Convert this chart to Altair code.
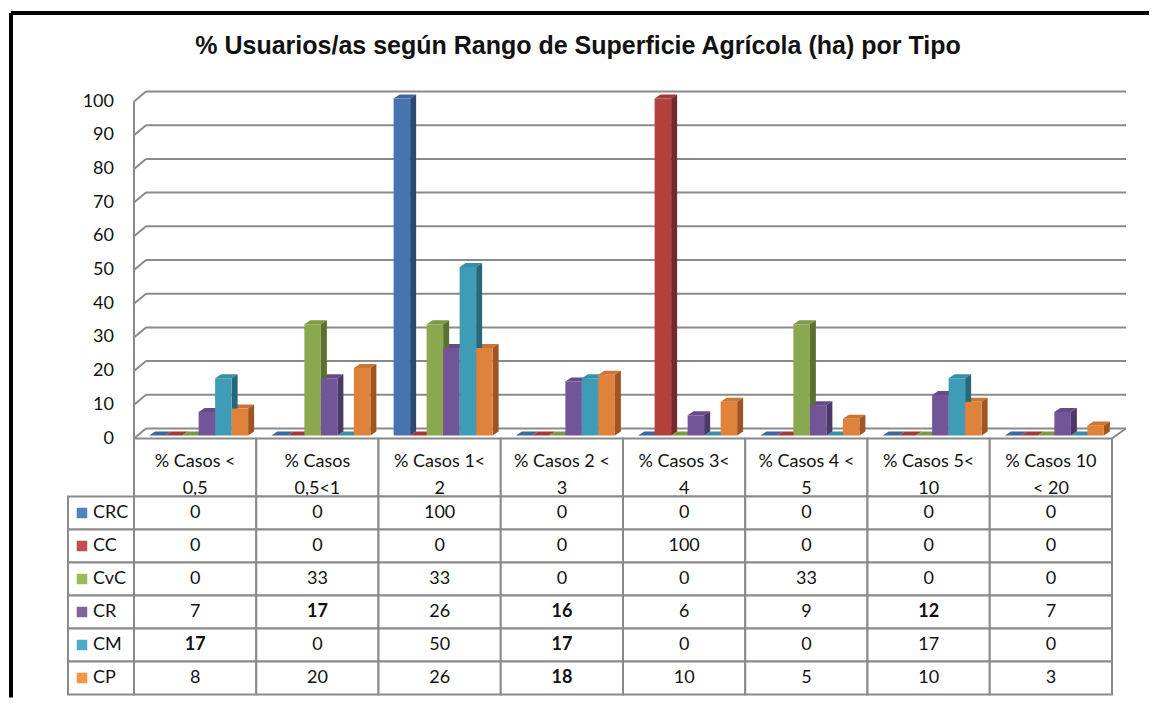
import altair as alt
import pandas as pd

TITLE = "% Usuarios/as según Rango de Superficie Agrícola (ha) por Tipo"
CATEGORIES = ["% Casos < 0,5", "% Casos 0,5<1", "% Casos 1< 2", "% Casos 2 < 3",
              "% Casos 3< 4", "% Casos 4 < 5", "% Casos  5< 10", "% Casos 10 < 20"]
HEADER_LINES = ["% Casos <\n0,5", "% Casos\n0,5<1", "% Casos 1<\n2", "% Casos 2 <\n3",
                "% Casos 3<\n4", "% Casos 4 <\n5", "% Casos  5<\n10", "% Casos 10\n< 20"]
SERIES = ["CRC", "CC", "CvC", "CR", "CM", "CP"]
CRC = [0, 0, 100, 0, 0, 0, 0, 0]
CC = [0, 0, 0, 0, 100, 0, 0, 0]
CVC = [0, 33, 33, 0, 0, 33, 0, 0]
CR = [7, 17, 26, 16, 6, 9, 12, 7]
CM = [17, 0, 50, 17, 0, 0, 17, 0]
CP = [8, 20, 26, 18, 10, 5, 10, 3]
VALUES = [CRC, CC, CVC, CR, CM, CP]
BOLD_CELLS = [("CR", 1), ("CR", 3), ("CR", 6), ("CM", 0), ("CM", 3), ("CP", 3)]
Y_TICKS = list(range(0, 101, 10))

# styles
FRONT = ["#4674AE", "#B2403D", "#8AA84D", "#715597", "#3F9CB6", "#DF823B"]
TOPC = ["#3E67A0", "#A13935", "#7D9944", "#654B88", "#3890A8", "#CC7433"]
SIDE = ["#2C4870", "#76292A", "#5A7131", "#4A3867", "#27677A", "#9E5522"]
LEGEND = ["#4F81BD", "#C0504D", "#9BBB59", "#8064A2", "#4BACC6", "#F79646"]
GRID = "#8a8a8a"
FONT = "Lato"
FS = 18

W, H = 978, 337
NCAT = len(CATEGORIES)
PXX = W / NCAT          # px per x unit
PXY = H / 100.0         # px per y unit
BW, SHIFT, DX, DY = 16.5, 3.5, 6.0, 4.0
dxu, dyu = DX / PXX, DY / PXY

front_rows, side_rows, top_rows, cells = [], [], [], []
for s, name in enumerate(SERIES):
    for i, cat in enumerate(CATEGORIES):
        v = VALUES[s][i]
        xl = i + 0.5 + ((s - len(SERIES) / 2) * BW + SHIFT) / PXX
        xr = xl + BW / PXX
        bid = f"b{s}_{i}"
        front_rows.append({"series": name, "x0": xl, "x1": xr, "v": v, "base": 0})
        side_rows += [
            {"bid": bid, "series": name, "px": xr, "lo": 0.0, "hi": float(v)},
            {"bid": bid, "series": name, "px": xr + dxu, "lo": dyu, "hi": v + dyu},
        ]
        top_rows += [
            {"bid": bid, "series": name, "px": xl, "lo": float(v), "hi": float(v)},
            {"bid": bid, "series": name, "px": xl + dxu, "lo": float(v), "hi": v + dyu},
            {"bid": bid, "series": name, "px": xr, "lo": float(v), "hi": v + dyu},
            {"bid": bid, "series": name, "px": xr + dxu, "lo": v + dyu, "hi": v + dyu},
        ]
        cells.append({"series": name, "cat": cat, "value": str(v),
                      "bold": 1 if (name, i) in BOLD_CELLS else 0})

front_df = pd.DataFrame(front_rows)
side_df = pd.DataFrame(side_rows)
top_df = pd.DataFrame(top_rows)
cells_df = pd.DataFrame(cells)
grid_df = pd.DataFrame({"v": Y_TICKS, "label": [str(t) for t in Y_TICKS]})
one = pd.DataFrame({"a": [0]})
header_df = pd.DataFrame({"cat": CATEGORIES, "label": HEADER_LINES})
series_df = pd.DataFrame({"series": SERIES})

XS = alt.Scale(domain=[0, NCAT], nice=False, zero=False)
YS = alt.Scale(domain=[0, 100], nice=False)

# walls: front plane sits 3px below the bars' scale, back wall 7px above
grid_back = alt.Chart(grid_df).mark_rule(color=GRID, strokeWidth=2, yOffset=-7).encode(
    x=alt.value(12), x2=alt.value(W + 14),
    y=alt.Y("v:Q", scale=YS, axis=None))
grid_diag = alt.Chart(grid_df).mark_rule(color=GRID, strokeWidth=2, yOffset=3, y2Offset=-7).encode(
    x=alt.value(0), x2=alt.value(12),
    y=alt.Y("v:Q", scale=YS, axis=None), y2="v:Q")
tick_labels = alt.Chart(grid_df).mark_text(align="right", baseline="middle", font=FONT, fontSize=FS,
                                           color="#111111", dy=3).encode(
    x=alt.value(-20), y=alt.Y("v:Q", scale=YS, axis=None), text="label:N")
front_axis = alt.Chart(one).mark_rule(color=GRID, strokeWidth=2).encode(
    x=alt.value(0), y=alt.value(3), y2=alt.value(H + 3))
floor_right = alt.Chart(one).mark_rule(color=GRID, strokeWidth=2).encode(
    x=alt.value(W), x2=alt.value(W + 14), y=alt.value(H + 3), y2=alt.value(H - 7))

tops = alt.Chart(top_df).mark_area(opacity=1).encode(
    x=alt.X("px:Q", scale=XS, axis=None),
    y=alt.Y("hi:Q", scale=YS, axis=None, stack=None), y2="lo:Q",
    color=alt.Color("series:N", scale=alt.Scale(domain=SERIES, range=TOPC), legend=None),
    detail="bid:N")
sides = alt.Chart(side_df).mark_area(opacity=1).encode(
    x=alt.X("px:Q", scale=XS, axis=None),
    y=alt.Y("hi:Q", scale=YS, axis=None, stack=None), y2="lo:Q",
    color=alt.Color("series:N", scale=alt.Scale(domain=SERIES, range=SIDE), legend=None),
    detail="bid:N")
fronts = alt.Chart(front_df).mark_bar(opacity=1).encode(
    x=alt.X("x0:Q", scale=XS, axis=None), x2="x1:Q",
    y=alt.Y("v:Q", scale=YS, axis=None, stack=None), y2="base:Q",
    color=alt.Color("series:N", scale=alt.Scale(domain=SERIES, range=FRONT), legend=None))

title = alt.Chart(one).mark_text(text=TITLE, font="Liberation Sans", fontSize=25,
                                 fontWeight="bold", color="#111111", baseline="middle").encode(
    x=alt.value(444), y=alt.value(-53))
border_left = alt.Chart(one).mark_rule(color="black", strokeWidth=4).encode(
    x=alt.value(-123), y=alt.value(-85.5), y2=alt.value(599))
border_top = alt.Chart(one).mark_rule(color="black", strokeWidth=4).encode(
    x=alt.value(-123), x2=alt.value(1015), y=alt.value(-85.5))

bars = alt.layer(grid_back, grid_diag, tick_labels, front_axis, floor_right, tops, sides, fronts,
                 title, border_left, border_top).resolve_scale(color="independent").properties(
    width=W, height=H)

XB = alt.X("cat:N", sort=CATEGORIES, scale=alt.Scale(paddingInner=0, paddingOuter=0), axis=None)
YB = alt.Y("series:N", sort=SERIES, scale=alt.Scale(paddingInner=0, paddingOuter=0), axis=None)

header_cells = alt.Chart(header_df).mark_rect(fill="white", stroke=GRID, strokeWidth=2).encode(x=XB)
header_text = alt.Chart(header_df).mark_text(lineBreak="\n", lineHeight=27, font=FONT, fontSize=FS,
                                             color="#111111", baseline="middle").encode(
    x=XB, y=alt.value(23), text="label:N")
header = alt.layer(header_cells, header_text).properties(width=W, height=58)

body_cells = alt.Chart(cells_df).mark_rect(fill="white", stroke=GRID, strokeWidth=2).encode(x=XB, y=YB)
body_text = alt.Chart(cells_df).transform_filter("datum.bold == 0").mark_text(
    font=FONT, fontSize=FS, color="#111111").encode(x=XB, y=YB, text="value:N")
body_bold = alt.Chart(cells_df).transform_filter("datum.bold == 1").mark_text(
    font=FONT, fontSize=FS, fontWeight="bold", color="#111111").encode(x=XB, y=YB, text="value:N")
leg_cells = alt.Chart(series_df).mark_rect(fill="white", stroke=GRID, strokeWidth=2).encode(
    x=alt.value(-66), x2=alt.value(0), y=YB)
leg_sq = alt.Chart(series_df).mark_square(size=110, opacity=1).encode(
    x=alt.value(-52), y=YB,
    color=alt.Color("series:N", scale=alt.Scale(domain=SERIES, range=LEGEND), legend=None))
leg_text = alt.Chart(series_df).mark_text(align="left", font=FONT, fontSize=FS, color="#111111").encode(
    x=alt.value(-41), y=YB, text="series:N")
body = alt.layer(body_cells, leg_cells, leg_sq, leg_text, body_text, body_bold).properties(
    width=W, height=198)

table = alt.vconcat(header, body, spacing=0, bounds="flush")
chart = alt.vconcat(bars, table, spacing=3, bounds="flush").properties(
    padding={"left": 0, "top": 2.5, "right": 0, "bottom": 0}
).configure_view(stroke="transparent")

chart.save("out.html", embed_options={"renderer": "svg", "actions": False})
